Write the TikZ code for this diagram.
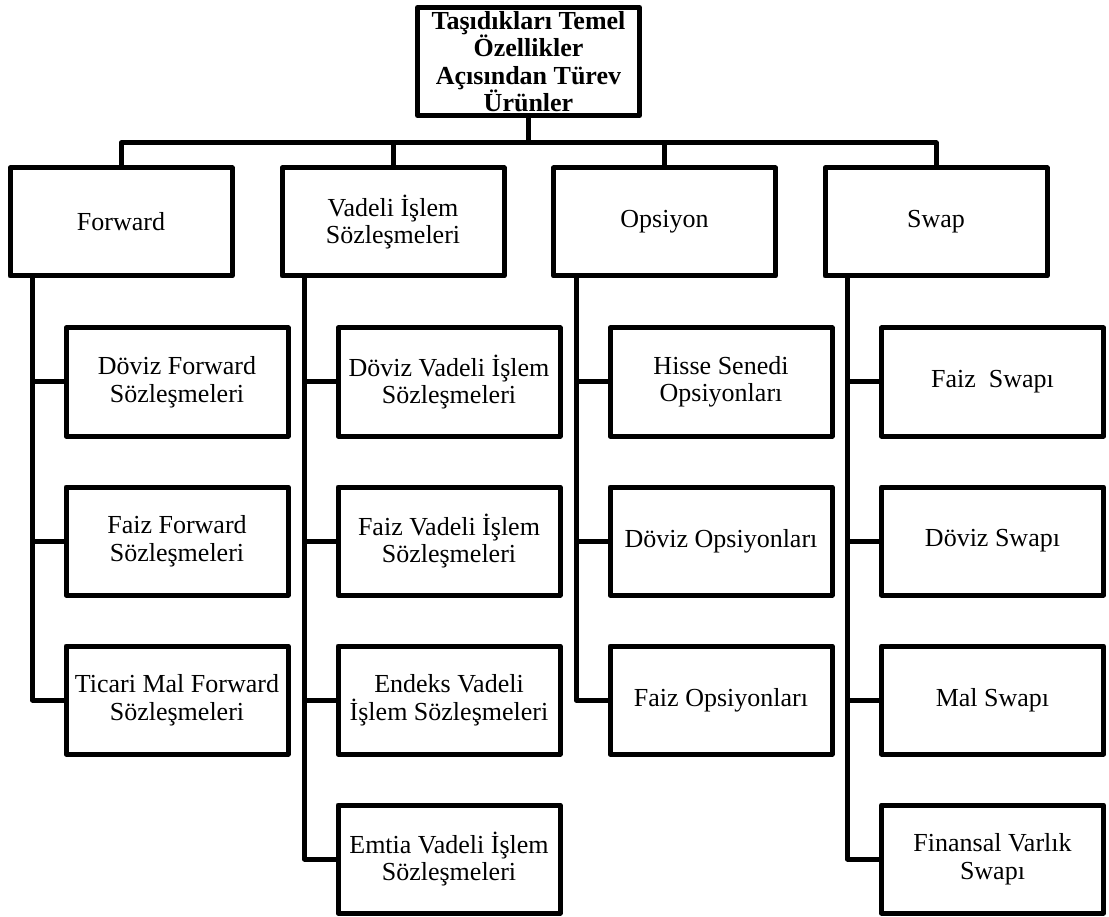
\documentclass[tikz,border=0pt]{standalone}
\usepackage{fontspec}
\setmainfont{Liberation Serif}
\usetikzlibrary{calc}
\begin{document}
\begin{tikzpicture}[x=1pt,y=-1pt,
  box/.style={draw=black, line width=5pt, line join=round, rectangle,
    minimum width=222pt, minimum height=108pt, align=center, inner sep=0pt,
    font=\fontsize{26}{27.5}\selectfont},
  head/.style={box, font=\fontsize{26}{27.5}\selectfont\bfseries},
  link/.style={line width=5pt, line join=round}]
\useasboundingbox (0,0) rectangle (1109,917);

% root
\node[head] (root) at (528.5,61.5) {Taşıdıkları Temel\\Özellikler\\Açısından Türev\\Ürünler};

% first level
\node[box] (fwd) at (121,222) {Forward};
\node[box] (vad) at (393,222) {Vadeli İşlem\\Sözleşmeleri};
\node[box] (ops) at (664.5,222) {Opsiyon};
\node[box] (swp) at (936,222) {Swap};

% forward contracts
\node[box] (f1) at (177,382) {Döviz Forward\\Sözleşmeleri};
\node[box] (f2) at (177,541) {Faiz Forward\\Sözleşmeleri};
\node[box] (f3) at (177,700) {Ticari Mal Forward\\Sözleşmeleri};

% futures
\node[box] (v1) at (449,382) {Döviz Vadeli İşlem\\Sözleşmeleri};
\node[box] (v2) at (449,541) {Faiz Vadeli İşlem\\Sözleşmeleri};
\node[box] (v3) at (449,700) {Endeks Vadeli\\İşlem Sözleşmeleri};
\node[box] (v4) at (449,859) {Emtia Vadeli İşlem\\Sözleşmeleri};

% options
\node[box] (o1) at (721,382) {Hisse Senedi\\Opsiyonları};
\node[box] (o2) at (721,541) {Döviz Opsiyonları};
\node[box] (o3) at (721,700) {Faiz Opsiyonları};

% swaps
\node[box] (s1) at (992.5,382) {Faiz\ \ Swapı};
\node[box] (s2) at (992.5,541) {Döviz Swapı};
\node[box] (s3) at (992.5,700) {Mal Swapı};
\node[box] (s4) at (992.5,859) {Finansal Varlık\\Swapı};

% bus from the root to the first level
\coordinate (bus) at (0,143);
\draw[link] (root.south) -- (root.south |- bus);
\draw[link] (fwd.north) -- (fwd.north |- bus) -- (swp.north |- bus) -- (swp.north);
\draw[link] (vad.north) -- (vad.north |- bus);
\draw[link] (ops.north) -- (ops.north |- bus);

% spines down to the second level
\coordinate (fs) at ($(fwd.south west)+(25,0)$);
\coordinate (vs) at ($(vad.south west)+(25,0)$);
\coordinate (os) at ($(ops.south west)+(25,0)$);
\coordinate (ss) at ($(swp.south west)+(25,0)$);

\draw[link] (fs) |- (f3.west);
\draw[link] (fs |- f1.west) -- (f1.west);
\draw[link] (fs |- f2.west) -- (f2.west);

\draw[link] (vs) |- (v4.west);
\draw[link] (vs |- v1.west) -- (v1.west);
\draw[link] (vs |- v2.west) -- (v2.west);
\draw[link] (vs |- v3.west) -- (v3.west);

\draw[link] (os) |- (o3.west);
\draw[link] (os |- o1.west) -- (o1.west);
\draw[link] (os |- o2.west) -- (o2.west);

\draw[link] (ss) |- (s4.west);
\draw[link] (ss |- s1.west) -- (s1.west);
\draw[link] (ss |- s2.west) -- (s2.west);
\draw[link] (ss |- s3.west) -- (s3.west);
\end{tikzpicture}
\end{document}
